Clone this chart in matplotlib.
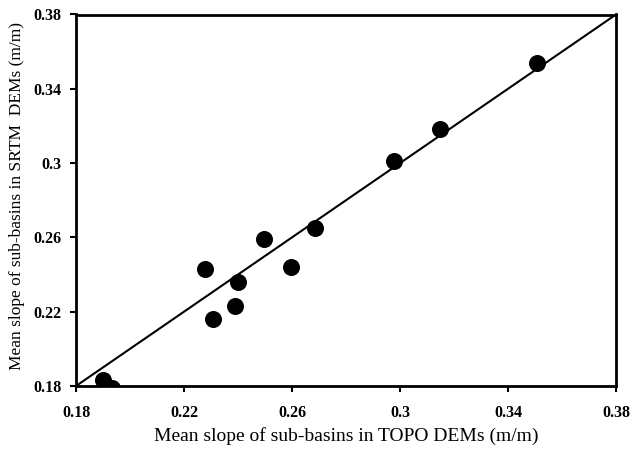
import matplotlib
matplotlib.use("Agg")
import matplotlib.pyplot as plt

plt.rcParams['font.family'] = ['Liberation Serif', 'DejaVu Serif']

topo = [0.3509, 0.3148, 0.2978, 0.2685, 0.2497, 0.2278, 0.2596, 0.2399, 0.2389, 0.2309, 0.1899, 0.1932]
srtm = [0.3540, 0.3182, 0.3013, 0.2649, 0.2591, 0.2430, 0.2440, 0.2361, 0.2231, 0.2159, 0.1832, 0.1789]
ticks = [0.18, 0.22, 0.26, 0.30, 0.34, 0.38]
tick_labels = ['0.18', '0.22', '0.26', '0.3', '0.34', '0.38']
line_x = [0.18, 0.38]

fig = plt.figure(figsize=(6.3, 4.53), dpi=100)
ax = fig.add_axes([76/630, 1-386/453, 540/630, (386-14.5)/453])
ax.plot(line_x, line_x, color='black', lw=1.5, zorder=2)
ax.scatter(topo, srtm, s=150, color='black', zorder=3, linewidths=0)
ax.set_xlim(0.18, 0.38)
ax.set_ylim(0.18, 0.38)
ax.set_xticks(ticks)
ax.set_xticklabels(tick_labels, fontweight='bold', fontsize=11.5)
ax.set_yticks(ticks)
ax.set_yticklabels(tick_labels, fontweight='bold', fontsize=11.5)
ax.tick_params(direction='out', length=4, width=1.5)
ax.tick_params(axis='x', pad=10)
ax.tick_params(axis='y', pad=6.5)
for s in ax.spines.values():
    s.set_linewidth(2)
ax.set_xlabel('Mean slope of sub-basins in TOPO DEMs (m/m)', fontsize=14, labelpad=4)
ax.set_ylabel('Mean slope of sub-basins in SRTM  DEMs (m/m)', fontsize=12.5, labelpad=6)
ax.yaxis.label.set_y(0.511)
fig.savefig('out.png', dpi=100)
